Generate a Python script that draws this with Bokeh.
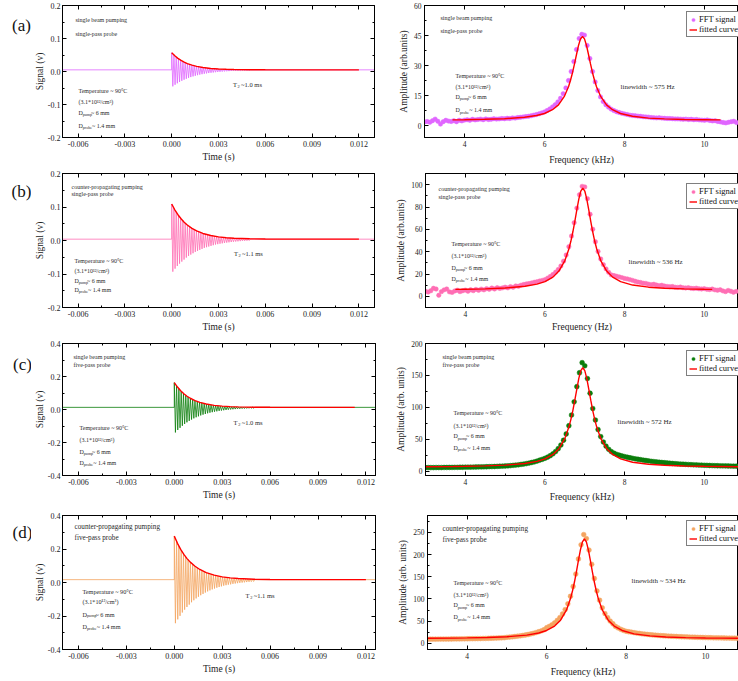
from bokeh.plotting import figure
from bokeh.models import (Range1d, FixedTicker, PrintfTickFormatter, LinearAxis,
                          Label, Legend, LegendItem)
from bokeh.layouts import column, row
from bokeh.embed import file_html
from bokeh.resources import INLINE

FONT = "Liberation Serif"
TXT = "#2b2b2b"

# ---------------- data: time-domain signals (left column) ----------------
OSC_PERIOD = 0.000144          # s, one Larmor cycle (~6.95 kHz)
baseline_a, baseline_b, baseline_c, baseline_d = 0.005, 0.004, 0.013, 0.017

peaks_a = [0.0570, 0.0500, 0.0440, 0.0388, 0.0342, 0.0303, 0.0269, 0.0240, 0.0214, 0.0192,
           0.0173, 0.0157, 0.0143, 0.0130, 0.0119, 0.0110, 0.0102, 0.0095, 0.0089, 0.0084,
           0.0079, 0.0075, 0.0072, 0.0069, 0.0067, 0.0064, 0.0062, 0.0060, 0.0059, 0.0058,
           0.0057, 0.0056, 0.0055, 0.0055, 0.0054]
troughs_a = [-0.0450, -0.0401, -0.0357, -0.0317, -0.0281, -0.0249, -0.0220, -0.0193, -0.0169, -0.0148,
             -0.0129, -0.0111, -0.0095, -0.0081, -0.0068, -0.0057, -0.0046, -0.0037, -0.0029, -0.0021,
             -0.0014, -0.0008, -0.0002, 0.0003, 0.0008, 0.0012, 0.0016, 0.0019, 0.0022, 0.0025,
             0.0027, 0.0030, 0.0032, 0.0034, 0.0035]
peaks_b = [0.109, 0.096, 0.085, 0.075, 0.066, 0.059, 0.052, 0.046, 0.041, 0.036,
           0.032, 0.029, 0.026, 0.023, 0.021, 0.019, 0.017, 0.015, 0.014, 0.013,
           0.012, 0.011, 0.010, 0.009, 0.0085, 0.008, 0.0075, 0.007, 0.0067, 0.0063,
           0.0061, 0.0058, 0.0056, 0.0054, 0.0053]
troughs_b = [-0.093, -0.084, -0.076, -0.069, -0.063, -0.057, -0.051, -0.046, -0.042, -0.038,
             -0.034, -0.031, -0.028, -0.025, -0.022, -0.020, -0.018, -0.016, -0.014, -0.012,
             -0.0109, -0.0096, -0.0084, -0.0073, -0.0063, -0.0054, -0.0045, -0.0038, -0.0031, -0.0025,
             -0.0019, -0.0013, -0.0009, -0.0005, -0.0001]
peaks_c = [0.163, 0.143, 0.126, 0.110, 0.097, 0.086, 0.076, 0.068, 0.060, 0.054,
           0.049, 0.044, 0.040, 0.036, 0.033, 0.030, 0.028, 0.026, 0.024, 0.023,
           0.021, 0.020, 0.019, 0.018, 0.0178, 0.0171, 0.0166, 0.0160, 0.0157, 0.0153,
           0.0150, 0.0147, 0.0145, 0.0144, 0.0141]
troughs_c = [-0.139, -0.124, -0.111, -0.0986, -0.0876, -0.0777, -0.0689, -0.0609, -0.0536, -0.0472,
             -0.0413, -0.0359, -0.0311, -0.0268, -0.0229, -0.0194, -0.0162, -0.0134, -0.0109, -0.0084,
             -0.0065, -0.0045, -0.0028, -0.0013, 0.0001, 0.0014, 0.0025, 0.0036, 0.0045, 0.0054,
             0.0060, 0.0068, 0.0074, 0.0080, 0.0084]
peaks_d = [0.277, 0.245, 0.217, 0.193, 0.171, 0.152, 0.136, 0.121, 0.108, 0.097,
           0.087, 0.079, 0.071, 0.064, 0.059, 0.053, 0.049, 0.045, 0.042, 0.039,
           0.036, 0.034, 0.032, 0.030, 0.028, 0.027, 0.026, 0.025, 0.024, 0.023,
           0.022, 0.0214, 0.0209, 0.0204, 0.0201]
troughs_d = [-0.243, -0.220, -0.199, -0.179, -0.162, -0.146, -0.132, -0.118, -0.106, -0.095,
             -0.085, -0.076, -0.068, -0.060, -0.053, -0.047, -0.041, -0.036, -0.031, -0.027,
             -0.023, -0.019, -0.016, -0.013, -0.011, -0.008, -0.006, -0.004, -0.002, -0.0004,
             0.0011, 0.0027, 0.004, 0.005, 0.0061]

env_t_abd = [0, 0.0002, 0.0004, 0.0006, 0.0008, 0.001, 0.0013, 0.0016, 0.002, 0.0025,
             0.003, 0.0035, 0.004, 0.005, 0.006, 0.008, 0.010, 0.012]
env_t_c = [0, 0.0002, 0.0004, 0.0006, 0.0008, 0.001, 0.0013, 0.0016, 0.002, 0.0025,
           0.003, 0.0035, 0.004, 0.005, 0.006, 0.008, 0.010, 0.0113]
env_a = [0.057, 0.0476, 0.0398, 0.0335, 0.0283, 0.0241, 0.0192, 0.0155, 0.0120, 0.0093,
         0.0076, 0.0066, 0.0059, 0.0053, 0.0051, 0.0050, 0.0050, 0.0050]
env_b = [0.109, 0.0916, 0.0770, 0.0649, 0.0547, 0.0463, 0.0362, 0.0286, 0.0210, 0.0148,
         0.0108, 0.0083, 0.0067, 0.0051, 0.0045, 0.0041, 0.0040, 0.0040]
env_c = [0.163, 0.1359, 0.1135, 0.0954, 0.0804, 0.0682, 0.0540, 0.0433, 0.0333, 0.0253,
         0.0205, 0.0175, 0.0157, 0.0140, 0.0134, 0.0130, 0.0130, 0.0130]
env_d = [0.277, 0.2338, 0.1977, 0.1678, 0.1426, 0.1218, 0.0968, 0.0778, 0.0591, 0.0438,
         0.0339, 0.0277, 0.0238, 0.0198, 0.0181, 0.0171, 0.0170, 0.0170]

# ---------------- data: FFT spectra (right column) ----------------
FFT_F0, FFT_STEP = 3.0, 1.0 / 15.0   # kHz, first bin and bin spacing

fft_a = [1.8, 2.0, 1.6, 2.4, 3.2, 2.1, 0.7, 1.9, 2.6, 2.2, 2.0, 2.4, 1.9, 2.6, 2.3,
         2.7, 2.9, 2.6, 3.1, 2.8, 3.0, 3.2, 2.9, 3.3, 3.0, 3.1, 3.4, 3.2, 3.3, 3.5,
         3.4, 3.6, 3.5, 3.8, 3.7, 4.0, 4.1, 4.3, 4.5, 4.6, 4.9, 5.2, 5.5, 5.9, 6.3,
         6.8, 7.5, 8.3, 9.3, 10.4, 11.8, 13.6, 15.9, 18.8, 22.5, 27.0, 32.0, 38.0, 43.5,
         45.6, 45.2,
         40.0, 33.5, 27.0, 21.8, 17.5, 14.3, 12.0, 10.4, 9.2, 8.2,
         7.5, 6.9, 6.5, 6.1, 5.8, 5.5, 5.2, 5.0, 4.9, 4.7,
         4.6, 4.4, 4.3, 4.2, 4.0, 3.9, 3.8, 3.9, 3.7, 3.6,
         3.5, 3.5, 3.4, 3.3, 3.3, 3.2, 3.1, 3.2, 3.0, 3.1,
         2.9, 3.0, 2.8, 2.7, 2.6, 2.8, 2.5, 2.3, 2.4, 2.0,
         1.8, 1.5, 1.3, 1.6, 1.9, 2.1, 1.5]
fft_b = [4.5, 3.8, 5.0, 7.2, 6.5, 1.0, 4.2, 5.8, 6.6, 4.0, 3.5, 4.8, 5.5, 4.2, 5.0,
         5.6, 4.6, 5.9, 5.1, 6.2, 5.4, 6.5, 5.8, 6.9, 6.3, 7.4, 6.6, 7.8, 7.1, 7.6,
         8.2, 7.6, 8.7, 8.1, 9.3, 9.0, 10.0, 10.6, 11.2, 11.5, 12.0, 12.6, 13.1, 13.7, 14.3,
         15.0, 16.3, 17.8, 19.5, 21.6, 24.0, 27.2, 31.5, 37.0, 44.5, 54.0, 66.0, 79.0, 91.0,
         98.5, 98.0,
         87.5, 73.5, 60.1, 48.9, 40.2, 33.5, 28.4, 24.6, 21.5, 19.2,
         18.6, 18.0, 17.4, 16.8, 16.0, 15.6, 15.0, 14.3, 13.5, 12.8,
         12.4, 11.8, 11.6, 10.9, 10.5, 10.8, 10.1, 9.6, 9.9, 9.2,
         8.9, 8.6, 8.8, 8.2, 8.0, 8.3, 7.7, 7.5, 7.8, 7.2,
         7.0, 7.3, 6.8, 6.6, 6.9, 6.3, 6.1, 6.5, 5.8, 5.5,
         5.9, 4.9, 4.2, 5.3, 4.6, 3.7, 4.4]
fft_c = [5.4, 5.4, 5.4, 5.4, 5.5, 5.5, 5.5, 5.6, 5.6, 5.7, 5.7, 5.8, 5.8, 5.9, 5.9,
         6.0, 6.1, 6.1, 6.2, 6.3, 6.4, 6.5, 6.6, 6.7, 6.9, 7.0, 7.1, 7.3, 7.5, 7.7,
         7.9, 8.2, 8.5, 8.9, 9.3, 9.8, 10.4, 11.0, 11.7, 12.5, 13.4, 14.4, 15.6, 17.0, 18.4,
         19.9, 21.8, 24.1, 27.0, 30.6, 35.1, 40.8, 48.3, 58.1, 71.0, 87.8, 108.5, 132.3, 154.1,
         170.0, 165.0,
         145.0, 122.0, 98.0, 80.0, 65.0, 54.0, 45.5, 39.0, 34.0, 30.5,
         28.0, 26.2, 24.8, 23.6, 22.6, 21.6, 20.8, 20.0, 19.2, 18.5,
         17.8, 17.1, 16.5, 15.9, 15.3, 14.8, 14.3, 13.8, 13.4, 13.0,
         12.6, 12.2, 11.9, 11.6, 11.3, 11.0, 10.7, 10.5, 10.2, 10.0,
         9.8, 9.6, 9.4, 9.2, 9.0, 8.9, 8.7, 8.6, 8.4, 8.3,
         8.2, 8.1, 8.0, 7.9, 7.8, 7.7, 7.6]
fft_d = [9.2, 9.3, 9.3, 9.3, 9.4, 9.5, 9.5, 9.6, 9.6, 9.7, 9.8, 9.8, 9.9, 10.0, 10.1,
         10.2, 10.3, 10.4, 10.5, 10.6, 10.7, 10.9, 11.0, 11.2, 11.4, 11.6, 11.8, 12.0, 12.3, 12.6,
         13.5, 14.0, 14.6, 15.3, 16.0, 16.8, 17.7, 18.7, 19.8, 21.0, 22.5, 24.2, 26.0, 28.1, 30.5,
         35.0, 38.0, 41.5, 46.0, 51.5, 58.0, 66.0, 76.0, 89.0, 106.0, 128.0, 156.0, 190.0, 222.0,
         245.0, 236.0,
         210.0, 178.0, 146.0, 118.0, 97.0, 80.0, 67.0, 58.0, 50.0, 44.0,
         38.0, 34.5, 31.5, 29.0, 27.0, 26.0, 25.0, 24.0, 23.0, 22.2,
         21.4, 20.7, 20.0, 19.4, 18.8, 18.3, 17.8, 17.4, 17.0, 16.6,
         16.2, 15.9, 15.6, 15.3, 15.0, 14.7, 14.5, 14.3, 14.0, 13.8,
         13.6, 13.4, 13.2, 13.0, 12.9, 12.7, 12.6, 12.4, 12.3, 12.2,
         12.0, 11.9, 11.8, 11.7, 11.6, 11.5, 11.4]

fit_f_a = [3.7, 4.0, 4.5, 5.0, 5.5, 5.8, 6.0, 6.2, 6.35, 6.5, 6.6, 6.65, 6.7, 6.75, 6.8, 6.85,
           6.9, 6.95, 7.0, 7.05, 7.1, 7.15, 7.2, 7.25, 7.3, 7.4, 7.55, 7.7, 7.9, 8.2, 8.6,
           9.0, 9.5, 10.0, 10.4]
fit_a = [2.8, 2.9, 3.1, 3.4, 4.1, 5.0, 6.0, 7.9, 10.3, 14.7, 19.4, 22.6, 26.4, 30.8, 35.5, 40.0,
         43.3, 44.5, 43.3, 40.0, 35.5, 30.8, 26.4, 22.6, 19.4, 14.7, 10.3, 7.9, 6.0, 4.6, 3.7,
         3.3, 3.0, 2.9, 2.8]
fit_f_b = [3.75, 4.0, 4.5, 5.0, 5.5, 5.8, 6.0, 6.2, 6.35, 6.5, 6.6, 6.65, 6.7, 6.75, 6.8, 6.85,
           6.9, 6.95, 7.0, 7.05, 7.1, 7.15, 7.2, 7.25, 7.3, 7.4, 7.55, 7.7, 7.9, 8.2, 8.6,
           9.0, 9.5, 10.0, 10.2]
fit_b = [6.2, 6.4, 6.7, 7.4, 9.0, 10.9, 13.2, 17.2, 22.6, 32.0, 42.4, 49.3, 57.6, 67.2, 77.4, 87.1,
         94.3, 97.0, 94.3, 87.1, 77.4, 67.2, 57.6, 49.3, 42.4, 32.0, 22.6, 17.2, 13.2, 10.1, 8.2,
         7.3, 6.7, 6.3, 6.2]
fit_f_cd = [3.0, 3.7, 4.0, 4.5, 5.0, 5.5, 5.8, 6.0, 6.2, 6.35, 6.5, 6.6, 6.65, 6.7, 6.75, 6.8,
            6.85, 6.9, 6.95, 7.0, 7.05, 7.1, 7.15, 7.2, 7.25, 7.3, 7.4, 7.55, 7.7, 7.9, 8.2,
            8.6, 9.0, 9.5, 10.0, 10.4, 10.85]
fit_c = [6.8, 7.2, 7.5, 8.1, 9.3, 11.9, 15.2, 19.1, 26.0, 35.1, 51.2, 68.9, 80.7, 94.8, 111.1, 128.6,
         145.2, 157.4, 162.0, 157.4, 145.2, 128.6, 111.1, 94.8, 80.7, 68.9, 51.2, 35.1, 26.0, 19.1, 13.8,
         10.6, 9.0, 8.0, 7.4, 7.1, 6.8]
fit_d = [11.2, 11.7, 12.1, 13.1, 14.8, 18.5, 23.2, 28.9, 38.8, 52.0, 75.2, 100.7, 117.8, 138.1, 161.7, 186.9,
         210.7, 228.4, 235.0, 228.4, 210.7, 186.9, 161.7, 138.1, 117.8, 100.7, 75.2, 52.0, 38.8, 28.9, 21.3,
         16.6, 14.3, 12.8, 12.0, 11.6, 11.2]

# ---------------- texts ----------------
headers = [("single beam pumping", "single-pass probe"),
           ("counter-propagating pumping", "single-pass probe"),
           ("single beam pumping", "five-pass probe"),
           ("counter-propagating pumping", "five-pass probe")]
t2_texts = ["~1.0 ms", "~1.1 ms", "~1.0 ms", "~1.1 ms"]
linewidths = ["linewidth ~ 575 Hz", "linewidth ~ 536 Hz", "linewidth ~ 572 Hz", "linewidth ~ 534 Hz"]
panel_tags = ["(a)", "(b)", "(c)", "(d)"]
freq_labels = ["Frequency (kHz)", "Frequency (Hz)", "Frequency (kHz)", "Frequency (kHz)"]
amp_labels = ["Amplitude (arb.units)", "Amplitude (arb.units)", "Amplitude (arb. units)", "Amplitude (arb. units)"]
colors = ["#E066FF", "#FF6EB4", "#0A7D0A", "#F4A460"]
RED = "#FF0000"


def add_text(p, fw, fh, dx, dy, text, size, color=TXT, align="left", baseline="middle"):
    xr, yr = p.x_range, p.y_range
    x = xr.start + dx * (xr.end - xr.start) / fw
    y = yr.end - dy * (yr.end - yr.start) / fh
    p.add_layout(Label(x=x, y=y, text=text, text_font=FONT, text_font_size=f"{size}px",
                       text_color=color, text_align=align, text_baseline=baseline))


def add_sub(p, fw, fh, dx, dy, main, sub, size):
    add_text(p, fw, fh, dx, dy, main, size)
    add_text(p, fw, fh, dx + size * 0.72, dy + size * 0.32, sub, size * 0.68)


def info_block(p, fw, fh, dx, dys, size):
    add_text(p, fw, fh, dx, dys[0], "Temperature ~ 90°C", size)
    add_text(p, fw, fh, dx, dys[1], "(3.1*10¹²/cm³)", size)
    add_sub(p, fw, fh, dx, dys[2], "D", "pump", size)
    add_text(p, fw, fh, dx + size * 0.72 + size * 0.68 * 2.0, dys[2], "~ 6 mm", size)
    add_sub(p, fw, fh, dx, dys[3], "D", "probe", size)
    add_text(p, fw, fh, dx + size * 0.72 + size * 0.68 * 2.3, dys[3], "~ 1.4 mm", size)


def style_axis(ax, ticks, minor, fmt, label, tsize, lsize, standoff=3, lstandoff=2):
    ax.ticker = FixedTicker(ticks=ticks, minor_ticks=minor)
    ax.formatter = PrintfTickFormatter(format=fmt)
    ax.axis_line_color = "black"
    ax.major_tick_line_color = "black"
    ax.minor_tick_line_color = "black"
    ax.major_tick_in, ax.major_tick_out = 4, 0
    ax.minor_tick_in, ax.minor_tick_out = 2, 0
    ax.major_label_text_font = FONT
    ax.major_label_text_font_size = f"{tsize}px"
    ax.major_label_text_color = "#222222"
    ax.major_label_standoff = standoff
    ax.axis_label = label
    ax.axis_label_text_font = FONT
    ax.axis_label_text_font_size = f"{lsize}px"
    ax.axis_label_text_font_style = "normal"
    ax.axis_label_text_color = "#222222"
    ax.axis_label_standoff = lstandoff


def mirror_axis(p, ticks, minor, side):
    # tick marks only (no labels) on the opposite side of the box
    ax = LinearAxis(ticker=FixedTicker(ticks=ticks, minor_ticks=minor),
                    major_label_text_font_size="0px", major_label_text_color=None,
                    major_label_standoff=0,
                    major_tick_in=4, major_tick_out=0, minor_tick_in=2, minor_tick_out=0,
                    axis_line_color="black", major_tick_line_color="black",
                    minor_tick_line_color="black")
    p.add_layout(ax, side)


def base_fig(w, h, ml, mr, mt, mb, xr, yr):
    p = figure(width=w, height=h, x_range=Range1d(*xr), y_range=Range1d(*yr),
               output_backend="svg", toolbar_location=None,
               min_border_left=ml, min_border_right=mr, min_border_top=mt, min_border_bottom=mb)
    p.xgrid.visible = False
    p.ygrid.visible = False
    p.outline_line_color = "black"
    p.outline_line_width = 1
    p.background_fill_color = "white"
    p.border_fill_color = "white"
    return p


def tag_fig(w, h, text, cx, cy):
    p = figure(width=w, height=h, x_range=Range1d(0, w), y_range=Range1d(0, h),
               output_backend="svg", toolbar_location=None,
               x_axis_location=None, y_axis_location=None,
               min_border_left=0, min_border_right=0, min_border_top=0, min_border_bottom=0)
    p.xgrid.visible = False
    p.ygrid.visible = False
    p.outline_line_color = None
    p.background_fill_color = "white"
    p.border_fill_color = "white"
    p.add_layout(Label(x=cx, y=h - cy, text=text, text_font=FONT, text_font_size="17px",
                       text_color="#111111", text_align="center", text_baseline="middle"))
    return p


def osc_xy(base, up, dn, t0, t1):
    xs, ys = [t0, 0.0], [base, base]
    for n, (u, d) in enumerate(zip(up, dn)):
        xs += [n * OSC_PERIOD, (n + 0.5) * OSC_PERIOD]
        ys += [u, d]
    xs += [len(up) * OSC_PERIOD, t1]
    ys += [base, base]
    return xs, ys


TAG_W = 31
left_cfg = [
    dict(w=345, h=170, ml=30, mr=2, mt=5, mb=33, xr=(-0.007, 0.013), yr=(-0.2, 0.2)),
    dict(w=345, h=170, ml=30, mr=2, mt=3, mb=33, xr=(-0.007, 0.013), yr=(-0.2, 0.2)),
    dict(w=345, h=170, ml=31, mr=1, mt=3, mb=35, xr=(-0.007, 0.0126), yr=(-0.4, 0.4)),
    dict(w=345, h=171, ml=31, mr=1, mt=3, mb=32, xr=(-0.007, 0.0126), yr=(-0.4, 0.4)),
]
right_cfg = [
    dict(w=362, h=170, ml=48, mr=0, mt=5, mb=29, xr=(3.0, 10.85), yr=(-6, 60), xls=5),
    dict(w=362, h=170, ml=49, mr=0, mt=3, mb=33, xr=(3.0, 10.86), yr=(-10, 110), xls=2),
    dict(w=362, h=170, ml=49, mr=0, mt=2, mb=33, xr=(3.0, 10.86), yr=(-7, 200), xls=4),
    dict(w=362, h=171, ml=51, mr=0, mt=5, mb=29, xr=(3.0, 10.83), yr=(-14, 288), xls=5),
]
tag_pos = [(21, 26), (21, 23), (22, 27), (22, 22)]
left_txt = [
    dict(hdr=(13, 14, 28, 6), info=(16, [85, 96, 107, 120], 6), t2=(171, 79, 6.5)),
    dict(hdr=(9, 13, 20, 6), info=(12, [87, 97, 107, 116], 6), t2=(172, 80, 6.5)),
    dict(hdr=(11, 13, 21, 6), info=(17, [84, 96, 108, 119], 6), t2=(171, 79, 6.5)),
    dict(hdr=(12, 12, 23, 7.2), info=(20, [77, 87, 100, 113], 6.2), t2=(183, 81, 6.5)),
]
right_txt = [
    dict(hdr=(16, 13, 26, 6), info=(31, [73, 84, 94, 108], 6), lw=(196, 84, 7), leg=(262, 14)),
    dict(hdr=(13, 15, 23, 6), info=(26, [70, 82, 94, 105], 6), lw=(203, 88, 7), leg=(261, 14)),
    dict(hdr=(17, 14, 22, 6), info=(28, [71, 84, 95, 107], 6), lw=(192, 80, 7), leg=(261, 14)),
    dict(hdr=(15, 14, 25, 7.2), info=(26, [69, 81, 92, 104], 6), lw=(204, 67, 7), leg=(259, 12)),
]

signals = [(baseline_a, peaks_a, troughs_a, env_t_abd, env_a),
           (baseline_b, peaks_b, troughs_b, env_t_abd, env_b),
           (baseline_c, peaks_c, troughs_c, env_t_c, env_c),
           (baseline_d, peaks_d, troughs_d, env_t_abd, env_d)]
spectra = [(fft_a, fit_f_a, fit_a), (fft_b, fit_f_b, fit_b),
           (fft_c, fit_f_cd, fit_c), (fft_d, fit_f_cd, fit_d)]
amp_ticks = [[0, 15, 30, 45, 60], [0, 20, 40, 60, 80, 100], [0, 50, 100, 150, 200],
             [0, 50, 100, 150, 200, 250]]
amp_minor = [[7.5, 22.5, 37.5, 52.5], [10, 30, 50, 70, 90, -10], [25, 75, 125, 175],
             [25, 75, 125, 175, 225, 275]]
sig_ticks = [[-0.2, -0.1, 0.0, 0.1, 0.2]] * 2 + [[-0.4, -0.2, 0.0, 0.2, 0.4]] * 2
sig_minor = [[-0.15, -0.05, 0.05, 0.15]] * 2 + [[-0.3, -0.1, 0.1, 0.3]] * 2
time_ticks = [-0.006, -0.003, 0.0, 0.003, 0.006, 0.009, 0.012]
time_minor = [-0.0045, -0.0015, 0.0015, 0.0045, 0.0075, 0.0105]
freq_ticks = [4, 6, 8, 10]
freq_minor = [3, 5, 7, 9]

rows = []
for k in range(4):
    # ---------- panel tag ----------
    c = left_cfg[k]
    tg = tag_fig(TAG_W, c["h"], panel_tags[k], *tag_pos[k])

    # ---------- left: time signal ----------
    pl = base_fig(c["w"], c["h"], c["ml"], c["mr"], c["mt"], c["mb"], c["xr"], c["yr"])
    fwl = c["w"] - c["ml"] - c["mr"]
    fhl = c["h"] - c["mt"] - c["mb"]
    base, up, dn, et, ev = signals[k]
    xs, ys = osc_xy(base, up, dn, c["xr"][0], c["xr"][1])
    pl.line(xs, ys, line_color=colors[k], line_width=0.8)
    pl.line(et, ev, line_color=RED, line_width=1.4)
    style_axis(pl.xaxis[0], time_ticks, time_minor, "%.3f", "Time (s)", 8, 9.5)
    style_axis(pl.yaxis[0], sig_ticks[k], sig_minor[k], "%.1f", "Signal (v)", 8, 9.5,
               standoff=2, lstandoff=0)
    mirror_axis(pl, time_ticks, time_minor, "above")
    mirror_axis(pl, sig_ticks[k], sig_minor[k], "right")
    t = left_txt[k]
    hx, hy1, hy2, hs = t["hdr"]
    add_text(pl, fwl, fhl, hx, hy1, headers[k][0], hs)
    add_text(pl, fwl, fhl, hx, hy2, headers[k][1], hs)
    ix, iys, isz = t["info"]
    info_block(pl, fwl, fhl, ix, iys, isz)
    tx, ty, ts = t["t2"]
    add_sub(pl, fwl, fhl, tx, ty, "T", "2", ts)
    add_text(pl, fwl, fhl, tx + ts * 1.25, ty, t2_texts[k], ts)

    # ---------- right: spectrum ----------
    r = right_cfg[k]
    pr = base_fig(r["w"], r["h"], r["ml"], r["mr"], r["mt"], r["mb"], r["xr"], r["yr"])
    fwr = r["w"] - r["ml"] - r["mr"]
    fhr = r["h"] - r["mt"] - r["mb"]
    amps, ff, fv = spectra[k]
    freqs = [FFT_F0 + i * FFT_STEP for i in range(len(amps))]
    sc = pr.scatter(freqs, amps, size=4.4 if k < 2 else 4.8, fill_color=colors[k],
                    line_color=colors[k], line_width=0.5)
    ln = pr.line(ff, fv, line_color=RED, line_width=1.4)
    style_axis(pr.xaxis[0], freq_ticks, freq_minor, "%d", freq_labels[k], 7.5, 9.5,
               lstandoff=r["xls"])
    style_axis(pr.yaxis[0], amp_ticks[k], amp_minor[k], "%d", amp_labels[k], 7.5, 9.5)
    mirror_axis(pr, freq_ticks, freq_minor, "above")
    t = right_txt[k]
    hx, hy1, hy2, hs = t["hdr"]
    add_text(pr, fwr, fhr, hx, hy1, headers[k][0], hs)
    add_text(pr, fwr, fhr, hx, hy2, headers[k][1], hs)
    ix, iys, isz = t["info"]
    info_block(pr, fwr, fhr, ix, iys, isz)
    lx, ly, ls = t["lw"]
    add_text(pr, fwr, fhr, lx, ly, linewidths[k], ls)
    vx, dy = t["leg"]
    leg_h = 22
    legend = Legend(items=[LegendItem(label="FFT signal", renderers=[sc]),
                           LegendItem(label="fitted curve", renderers=[ln])],
                    location=(vx, fhr - dy - leg_h),
                    border_line_color="black", border_line_width=1,
                    background_fill_color="white", background_fill_alpha=1,
                    padding=2, spacing=0, margin=0,
                    glyph_width=8, glyph_height=9, label_height=9, label_standoff=2,
                    label_text_font=FONT, label_text_font_size="8.5px",
                    label_text_color="#111111")
    pr.add_layout(legend, "center")
    rows.append(row(tg, pl, pr))

layout = column(*rows)
open("out.html", "w").write(file_html(layout, INLINE))
